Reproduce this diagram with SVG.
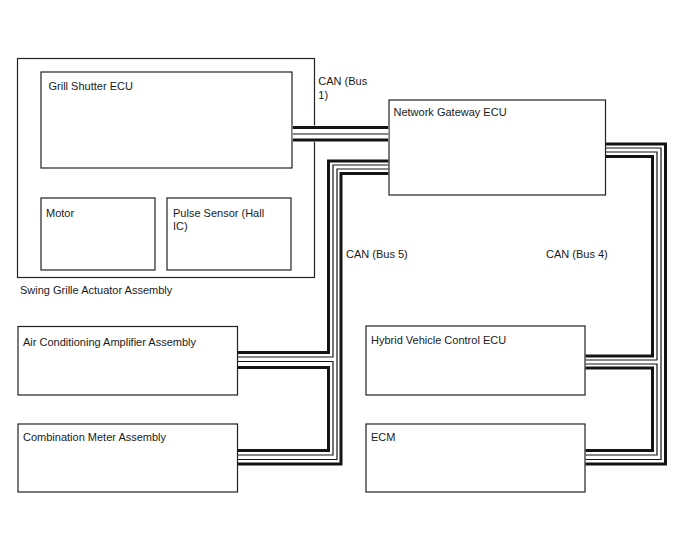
<svg xmlns="http://www.w3.org/2000/svg" width="688" height="560" viewBox="0 0 688 560">
<style>
.box{fill:#fff;stroke:#222;stroke-width:1.2}
.t{font-family:"Liberation Sans",Arial,sans-serif;font-size:11px;fill:#1a1a1a}
.k{fill:none;stroke:#141414;stroke-width:3;stroke-linejoin:miter}
.n{fill:none;stroke:#141414;stroke-width:1.2;stroke-linejoin:miter}
</style>
<rect width="688" height="560" fill="#fff"/>
<g id="swing-grille-actuator-assembly">
<rect class="box" x="17.5" y="58.5" width="297" height="219"/>
<text class="t" x="20" y="294">Swing Grille Actuator Assembly</text>
</g>
<g id="grill-shutter-ecu">
<rect class="box" x="41" y="72" width="251" height="96"/>
<text class="t" x="48.5" y="89.5">Grill Shutter ECU</text>
</g>
<g id="motor">
<rect class="box" x="41" y="198" width="114" height="72"/>
<text class="t" x="46" y="216.5">Motor</text>
</g>
<g id="pulse-sensor">
<rect class="box" x="167" y="198" width="124" height="72"/>
<text class="t" x="173" y="216.5">Pulse Sensor (Hall</text>
<text class="t" x="173" y="229.5">IC)</text>
</g>
<g id="network-gateway-ecu">
<rect class="box" x="389" y="100" width="216.5" height="95"/>
<text class="t" x="393.5" y="116">Network Gateway ECU</text>
</g>
<g id="air-conditioning-amplifier-assembly">
<rect class="box" x="18" y="326.5" width="219.5" height="68.5"/>
<text class="t" x="23" y="346">Air Conditioning Amplifier Assembly</text>
</g>
<g id="combination-meter-assembly">
<rect class="box" x="18" y="424" width="219.5" height="68"/>
<text class="t" x="23" y="441">Combination Meter Assembly</text>
</g>
<g id="hybrid-vehicle-control-ecu">
<rect class="box" x="366" y="326" width="219" height="69"/>
<text class="t" x="371" y="344">Hybrid Vehicle Control ECU</text>
</g>
<g id="ecm">
<rect class="box" x="366" y="424" width="219" height="68"/>
<text class="t" x="371" y="441">ECM</text>
</g>
<g id="connectors">
<rect x="292.6" y="125.5" width="95.8" height="16.5" fill="#fff"/>
<path class="k" d="M292.6 127.5H388.4"/>
<path class="n" d="M292.6 134H388.4"/>
<path class="k" d="M292.6 140H388.4"/>
<path class="k" d="M388.4 161H328.5V352.5H238"/>
<path class="n" d="M388.4 165H333V357H238"/>
<path class="n" d="M388.4 169H337V459.5H238"/>
<path class="k" d="M388.4 173.5H341V464H238"/>
<path class="n" d="M238 361.5H333V455H238"/>
<path class="k" d="M238 367.5H328.5V450.5H238"/>
<path class="k" d="M606 144H665.5V464H585.6"/>
<path class="n" d="M606 148H661V459.5H585.6"/>
<path class="n" d="M606 152H657V360H585.6"/>
<path class="k" d="M606 156.5H652.5V356H585.6"/>
<path class="n" d="M585.6 364H657V455H585.6"/>
<path class="k" d="M585.6 368H652.5V450.5H585.6"/>
</g>
<g id="labels">
<text class="t" x="318.3" y="85">CAN (Bus</text>
<text class="t" x="318.3" y="98.5">1)</text>
<text class="t" x="346" y="258">CAN (Bus 5)</text>
<text class="t" x="546" y="258">CAN (Bus 4)</text>
</g>
</svg>
